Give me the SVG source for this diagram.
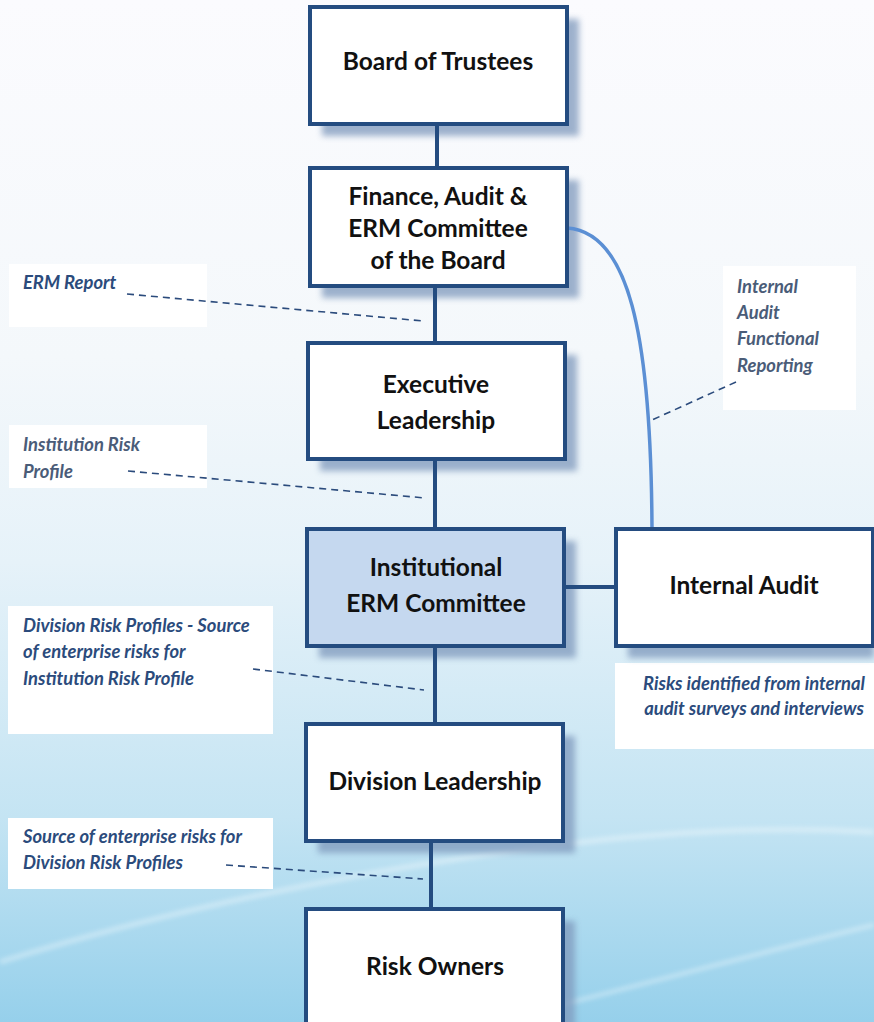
<svg xmlns="http://www.w3.org/2000/svg" width="874" height="1022" viewBox="0 0 874 1022">
<defs>
<linearGradient id="bg" x1="0" y1="0" x2="0" y2="1">
<stop offset="0" stop-color="#FBFBFE"/>
<stop offset="0.35" stop-color="#F4F8FB"/>
<stop offset="0.55" stop-color="#E6F2F9"/>
<stop offset="0.8" stop-color="#C4E4F3"/>
<stop offset="1" stop-color="#96D0EB"/>
</linearGradient>
<filter id="sh" x="-10%" y="-10%" width="130%" height="130%">
<feGaussianBlur stdDeviation="3"/>
</filter>
<filter id="blur" x="-5%" y="-50%" width="110%" height="200%">
<feGaussianBlur stdDeviation="2"/>
</filter>
</defs>
<style>
.box{fill:#FFFFFF;stroke:#244C80;stroke-width:4}
.erm{fill:#C5D8EF}
.shadow{fill:#7E98BC;opacity:0.75;filter:url(#sh)}
.nt{font-family:"Lato","Liberation Sans",sans-serif;font-weight:bold;font-size:24.5px;fill:#111111;text-anchor:middle}
.lbox{fill:#FFFFFF}
.lt{font-family:"Lato","Liberation Sans",sans-serif;font-weight:bold;font-style:italic;font-size:18.4px;fill:#2B4B7C}
.lg{fill:#4A5C78}
.conn{stroke:#244C80;stroke-width:4;fill:none}
.dash{stroke:#2B4B7C;stroke-width:1.6;stroke-dasharray:7,5;fill:none}
.wave{stroke:#FFFFFF;fill:none;opacity:0.3;filter:url(#blur)}
</style>
<rect x="0" y="0" width="874" height="1022" fill="url(#bg)"/>
<path class="wave" stroke-width="6" d="M0,962 C200,900 420,860 600,840 C720,828 800,828 874,832"/>
<path class="wave" stroke-width="5" d="M560,1005 C680,975 790,945 874,925"/>

<g id="labels">
<g id="lbl-erm-report">
<rect class="lbox" x="9" y="264" width="198" height="63"/>
<text class="lt" x="23" y="289">ERM Report</text>
</g>
<g id="lbl-inst-risk">
<rect class="lbox" x="9" y="425" width="198" height="63"/>
<text class="lt lg" x="23" y="451">Institution Risk</text>
<text class="lt lg" x="23" y="478">Profile</text>
</g>
<g id="lbl-div-risk">
<rect class="lbox" x="8" y="606" width="265" height="128"/>
<text class="lt" x="23" y="632">Division Risk Profiles - Source</text>
<text class="lt" x="23" y="658">of enterprise risks for</text>
<text class="lt" x="23" y="685">Institution Risk Profile</text>
</g>
<g id="lbl-source">
<rect class="lbox" x="8" y="818" width="265" height="71"/>
<text class="lt" x="23" y="843">Source of enterprise risks for</text>
<text class="lt" x="23" y="869">Division Risk Profiles</text>
</g>
<g id="lbl-ia-func">
<rect class="lbox" x="723" y="266" width="133" height="144"/>
<text class="lt lg" x="737" y="293">Internal</text>
<text class="lt lg" x="737" y="319">Audit</text>
<text class="lt lg" x="737" y="345">Functional</text>
<text class="lt lg" x="737" y="372">Reporting</text>
</g>
<g id="lbl-risks-ident">
<rect class="lbox" x="615" y="663" width="259" height="86"/>
<text class="lt" x="754" y="690" text-anchor="middle">Risks identified from internal</text>
<text class="lt" x="754" y="715" text-anchor="middle">audit surveys and interviews</text>
</g>
</g>

<g id="shadows">
<rect class="shadow" x="322" y="19" width="257" height="117"/>
<rect class="shadow" x="322" y="180" width="257" height="118"/>
<rect class="shadow" x="320" y="355" width="257" height="116"/>
<rect class="shadow" x="319" y="541" width="257" height="117"/>
<rect class="shadow" x="628" y="541" width="246" height="117"/>
<rect class="shadow" x="318" y="736" width="257" height="117"/>
<rect class="shadow" x="318" y="921" width="257" height="117"/>
</g>

<g id="connectors">
<line class="conn" x1="437" y1="124" x2="437" y2="168"/>
<line class="conn" x1="435" y1="286" x2="435" y2="343"/>
<line class="conn" x1="435" y1="459" x2="435" y2="529"/>
<line class="conn" x1="435" y1="646" x2="435" y2="724"/>
<line class="conn" x1="431" y1="841" x2="431" y2="909"/>
<line class="conn" x1="564" y1="587" x2="616" y2="587"/>
<path d="M567,228 C628,232 651,330 652,529" stroke="#5B8FD4" stroke-width="3.5" fill="none"/>
<line class="dash" x1="127" y1="294" x2="423" y2="321"/>
<line class="dash" x1="128" y1="471" x2="425" y2="498"/>
<line class="dash" x1="253" y1="669" x2="424" y2="690"/>
<line class="dash" x1="226" y1="865" x2="423" y2="879"/>
<line class="dash" x1="736" y1="382" x2="652" y2="420"/>
</g>

<g id="node-board">
<rect class="box" x="310" y="7" width="257" height="117"/>
<text class="nt" x="438" y="70">Board of Trustees</text>
</g>
<g id="node-finance">
<rect class="box" x="310" y="168" width="257" height="118"/>
<text class="nt" x="438" y="205">Finance, Audit &amp;</text>
<text class="nt" x="438" y="237">ERM Committee</text>
<text class="nt" x="438" y="269">of the Board</text>
</g>
<g id="node-exec">
<rect class="box" x="308" y="343" width="257" height="116"/>
<text class="nt" x="436" y="393">Executive</text>
<text class="nt" x="436" y="429">Leadership</text>
</g>
<g id="node-erm">
<rect class="box erm" x="307" y="529" width="257" height="117"/>
<text class="nt" x="436" y="576">Institutional</text>
<text class="nt" x="436" y="612">ERM Committee</text>
</g>
<g id="node-ia">
<rect class="box" x="616" y="529" width="257" height="117"/>
<text class="nt" x="744" y="594">Internal Audit</text>
</g>
<g id="node-div">
<rect class="box" x="306" y="724" width="257" height="117"/>
<text class="nt" x="435" y="790">Division Leadership</text>
</g>
<g id="node-owners">
<rect class="box" x="306" y="909" width="257" height="130"/>
<text class="nt" x="435" y="975">Risk Owners</text>
</g>
</svg>
